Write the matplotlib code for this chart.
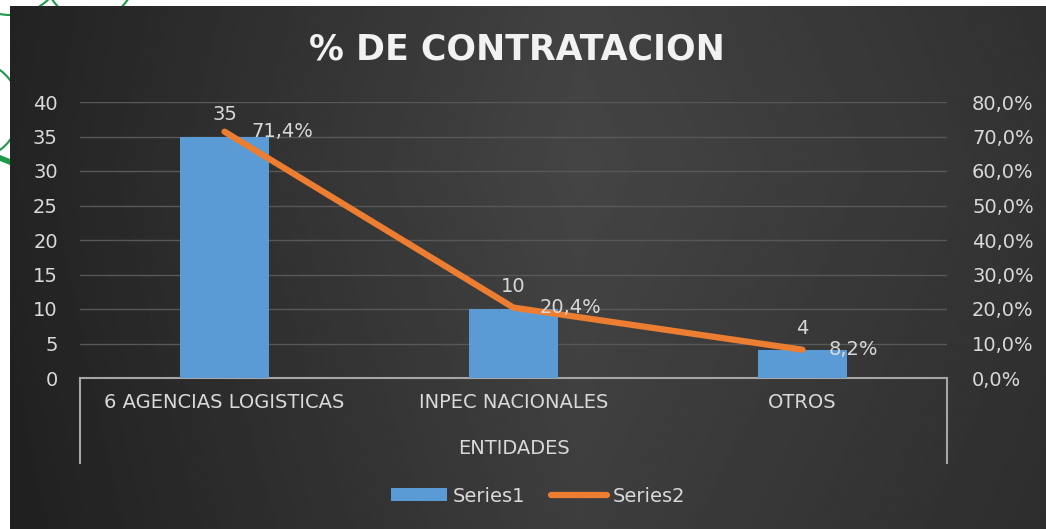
import matplotlib.pyplot as plt
import numpy as np
from matplotlib.patches import Arc

categorias = ["6 AGENCIAS LOGISTICAS", "INPEC NACIONALES", "OTROS"]
series1 = [35, 10, 4]
series2 = [71.4, 20.4, 8.2]
etiquetas_pct = ["71,4%", "20,4%", "8,2%"]
ticks_izq = [0, 5, 10, 15, 20, 25, 30, 35, 40]
ticks_der = [0, 10, 20, 30, 40, 50, 60, 70, 80]

W, H = 1046, 529
txt = "#d9d9d9"
plt.rcParams["font.family"] = ["DejaVu Sans"]

fig = plt.figure(figsize=(W / 100, H / 100), dpi=100, facecolor="white")

# background: green decoration + dark gradient panel
bg = fig.add_axes([0, 0, 1, 1])
bg.set_xlim(0, W)
bg.set_ylim(H, 0)
bg.axis("off")
for (cx, cy, r, t1, t2) in [(10, -40, 55, 0, 180), (90, -25, 45, 0, 180), (-30, 110, 50, -60, 60)]:
    bg.add_patch(Arc((cx, cy), 2 * r, 2 * r, theta1=t1, theta2=t2, color="#1f9a4a", lw=1.5))
bg.plot([0, 10], [158, 162], color="#1f9a4a", lw=4)
gx = np.linspace(0, 1, 400)
grad = np.interp(gx, [0, 0.55, 1], [0.14, 0.27, 0.2])
gy = np.linspace(0, 1, 100)
img = np.outer(1 - 0.15 * np.abs(gy - 0.3), grad)
bg.imshow(img, cmap="gray", vmin=0, vmax=1, extent=[10, W, H, 6], aspect="auto", zorder=2)

ax = fig.add_axes([80 / W, 1 - 378 / H, 867 / W, 276 / H])
ax.patch.set_alpha(0)
x = np.arange(len(categorias))
ax.bar(x, series1, width=0.31, color="#5b9bd5", zorder=3, label="Series1")
ax.set_xlim(-0.5, 2.5)
ax.set_ylim(0, 40)
ax.set_yticks(ticks_izq)
ax.grid(axis="y", color="#585858", lw=1)
ax.set_axisbelow(True)
for s in ["top", "right", "left"]:
    ax.spines[s].set_visible(False)
ax.spines["bottom"].set_color("#a6a6a6")
ax.spines["bottom"].set_linewidth(1.5)
ax.tick_params(axis="y", length=0, pad=16, labelsize=14, labelcolor=txt)
ax.set_xticks(x)
ax.set_xticklabels(categorias)
ax.tick_params(axis="x", length=0, pad=11, labelsize=14, labelcolor=txt)
for xx in [0, 1]:
    ax.plot([xx, xx], [0, -85 / 276], transform=ax.transAxes, color="#a6a6a6", lw=1.5, clip_on=False)
ax.text(0.5, -70 / 276, "ENTIDADES", transform=ax.transAxes, ha="center", va="center",
        fontsize=14, color=txt)

ax2 = ax.twinx()
ax2.plot(x, series2, color="#ed7d31", lw=4.5, solid_capstyle="round", zorder=4, label="Series2")
ax2.set_ylim(0, 80)
ax2.set_yticks(ticks_der)
ax2.set_yticklabels([f"{t},0%" for t in ticks_der])
ax2.tick_params(axis="y", length=0, pad=18, labelsize=14, labelcolor=txt)
for s in ax2.spines.values():
    s.set_visible(False)

for i in range(len(categorias)):
    ax.annotate(str(series1[i]), (x[i], series1[i]), xytext=(0, 16), textcoords="offset points",
                ha="center", va="center", fontsize=14, color=txt, zorder=5)
    ax2.annotate(etiquetas_pct[i], (x[i], series2[i]), xytext=(19, 0), textcoords="offset points",
                 ha="left", va="center", fontsize=14, color=txt, zorder=5)

fig.text(517 / W, 1 - 49 / H, "% DE CONTRATACION", ha="center", va="center",
         fontsize=25, fontweight="bold", color="#f2f2f2")

h1, l1 = ax.get_legend_handles_labels()
h2, l2 = ax2.get_legend_handles_labels()
fig.legend(h1 + h2, l1 + l2, loc="center", bbox_to_anchor=(538 / W, 1 - 496 / H), ncol=2,
           frameon=False, fontsize=14, labelcolor=txt, handlelength=2.9, handleheight=0.6,
           handletextpad=0.3, columnspacing=1.3)

fig.savefig("out.png", dpi=100, facecolor="white")
